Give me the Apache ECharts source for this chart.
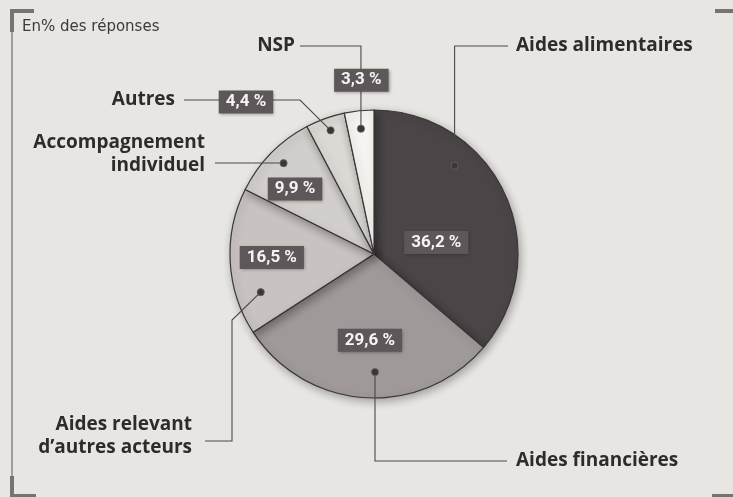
<!DOCTYPE html>
<html>
<head>
<meta charset="utf-8">
<script src="https://cdn.jsdelivr.net/npm/echarts@6/dist/echarts.min.js"></script>
<style>
  html, body { margin: 0; padding: 0; background: #e8e6e3; }
  #chart { width: 733px; height: 497px; }
</style>
</head>
<body>
<div id="chart"></div>
<script>
// data
var categories = ['Aides alimentaires', 'Aides financières', "Aides relevant d'autres acteurs",
	'Accompagnement individuel', 'Autres', 'NSP'];
var values = [36.2, 29.6, 16.5, 9.9, 4.4, 3.3];
var nameLines = ['Aides alimentaires', 'Aides financières', 'Aides relevant\nd\u2019autres acteurs',
	'Accompagnement\nindividuel', 'Autres', 'NSP'];

// layout
var CX = 374, CY = 254, R = 144;
var sliceColors = ['#4b4547', '#9f9999', '#c8c3c0', '#d2cecb', '#dcd9d5', '#f6f4f1'];
// percent box: [share of slice angle, share of radius]
var boxSpot = [[0.61, 0.44], [0.49, 0.6], [0.52, 0.71], [0.36, 0.71], [-0.78, 1.38], [0.65, 1.21]];
// leader dot: [share of slice angle, share of radius]
var dotSpot = [[0.325, 0.83], [0.46, 0.82], [0.24, 0.83], [0.52, 0.89], [0.53, 0.91], [0.5, 0.875]];
// name label and the leader path up to the dot
var leaders = [
	{x: 516, y: 46, align: 'left', path: [[508, 46]], turn: true},
	{x: 516, y: 461, align: 'left', path: [[507, 461]], turn: true},
	{x: 192, y: 448, align: 'right', path: [[205, 441], [232, 441], [232, 320]]},
	{x: 205, y: 166, align: 'right', path: [[215, 163]], turn: true},
	{x: 175, y: 100, align: 'right', path: [[184, 100], [300, 100]]},
	{x: 295, y: 46, align: 'right', path: [[300, 46]], turn: true}
];

var total = 0;
for (var i = 0; i < values.length; i++) total += values[i];
var starts = [], acc = 0;
for (var i = 0; i < values.length; i++) {
	starts.push(acc / total * 360);
	acc += values[i];
}

function polar(deg, r) {
	var a = deg * Math.PI / 180;
	return [CX + r * Math.sin(a), CY - r * Math.cos(a)];
}
function spot(i, s) {
	var span = values[i] / total * 360;
	return polar(starts[i] + span * s[0], R * s[1]);
}
function fmt(v) {
	return String(v.toFixed(1)).replace('.', ',') + ' %';
}

var pieData = [], labelData = [];
for (var i = 0; i < categories.length; i++) {
	pieData.push({name: categories[i], value: values[i], itemStyle: {color: sliceColors[i]}});
	labelData.push({name: categories[i], value: values[i]});
}

var graphics = [
	// frame marks
	{type: 'line', shape: {x1: 12, y1: 10, x2: 12, y2: 497}, style: {stroke: '#8a8684', lineWidth: 1.5}},
	{type: 'rect', shape: {x: 10, y: 9, width: 4, height: 23}, style: {fill: '#777371'}},
	{type: 'rect', shape: {x: 10, y: 9, width: 24, height: 4}, style: {fill: '#777371'}},
	{type: 'rect', shape: {x: 10, y: 476, width: 4, height: 21}, style: {fill: '#777371'}},
	{type: 'rect', shape: {x: 10, y: 494, width: 26, height: 3}, style: {fill: '#777371'}},
	{type: 'rect', shape: {x: 715, y: 9, width: 18, height: 4}, style: {fill: '#777371'}},
	{type: 'rect', shape: {x: 712, y: 494, width: 21, height: 3}, style: {fill: '#777371'}},
	{type: 'text', left: 22, top: 20, style: {text: 'En% des réponses', font: '15px "DejaVu Sans"', fill: '#3e3a3b'}}
];

for (var i = 0; i < leaders.length; i++) {
	var ld = leaders[i];
	var dot = spot(i, dotSpot[i]);
	var pts = ld.path.slice();
	if (ld.turn) {
		var last = pts[pts.length - 1];
		pts.push([dot[0], last[1]]);
	}
	pts.push(dot);
	graphics.push({type: 'polyline', z: 10, shape: {points: pts},
		style: {stroke: '#4d4849', lineWidth: 1.1, fill: null}});
	graphics.push({type: 'circle', z: 12, shape: {cx: dot[0], cy: dot[1], r: 3.6},
		style: {fill: '#3a3536', stroke: '#6a6465', lineWidth: 0.8}});
	var lines = nameLines[i].split('\n');
	graphics.push({type: 'text', z: 12, x: ld.x, y: ld.y - (lines.length - 1) * 11.5,
		style: {text: nameLines[i], font: 'bold 19px "Open Sans"', fill: '#2f2b2c',
			align: ld.align, verticalAlign: 'middle', lineHeight: 23}});
}

var myChart = echarts.init(document.getElementById('chart'));
myChart.setOption({
	backgroundColor: '#e8e6e3',
	animation: false,
	graphic: graphics,
	series: [{
		type: 'pie',
		center: [CX, CY],
		radius: R,
		startAngle: 90,
		clockwise: true,
		z: 2,
		itemStyle: {
			borderColor: '#3a3536',
			borderWidth: 1.2,
			shadowBlur: 8,
			shadowColor: 'rgba(0,0,0,0.3)',
			shadowOffsetX: 2,
			shadowOffsetY: 3
		},
		label: {show: false},
		labelLine: {show: false},
		emphasis: {disabled: true},
		data: pieData
	}, {
		// same pie, transparent, only to carry the percent boxes above the leader lines
		type: 'pie',
		center: [CX, CY],
		radius: R,
		startAngle: 90,
		clockwise: true,
		z: 20,
		silent: true,
		avoidLabelOverlap: false,
		itemStyle: {color: 'rgba(0,0,0,0)', borderWidth: 0},
		label: {
			show: true,
			position: 'inside',
			formatter: function(p) { return fmt(p.value); },
			color: '#f4f4f4',
			fontFamily: 'Roboto',
			fontWeight: 'bold',
			fontSize: 17,
			backgroundColor: '#5d5759',
			padding: [4, 7, 2, 7],
			shadowBlur: 3,
			shadowColor: 'rgba(0,0,0,0.35)',
			shadowOffsetX: 1,
			shadowOffsetY: 1
		},
		labelLine: {show: false},
		labelLayout: function(p) {
			var pt = spot(p.dataIndex, boxSpot[p.dataIndex]);
			return {x: pt[0], y: pt[1], align: 'center', verticalAlign: 'middle'};
		},
		emphasis: {disabled: true},
		data: labelData
	}]
});
</script>
</body>
</html>
